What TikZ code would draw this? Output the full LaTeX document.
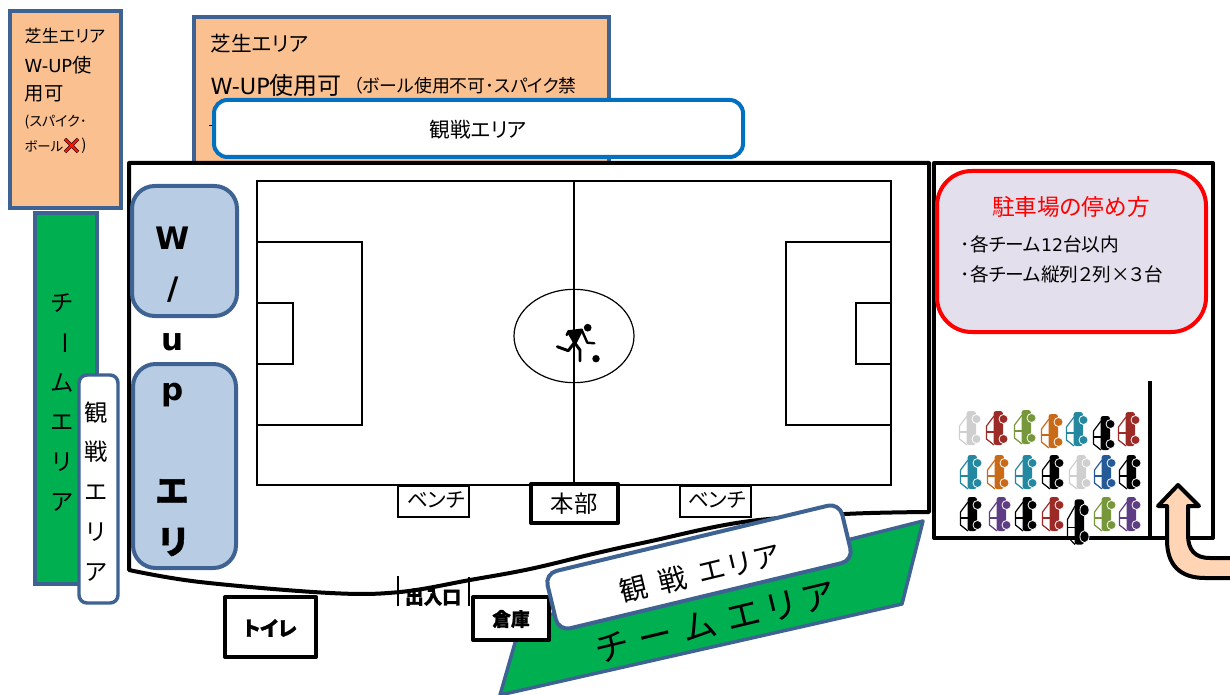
\documentclass[tikz,border=0pt]{standalone}
\usepackage{fontspec}
\setmainfont{Noto Sans CJK JP}[RawFeature=+palt,BoldFeatures={FakeBold=1.2}]
\newfontfamily\latinfont{DejaVu Sans}[Scale=.93]
\definecolor{edgeblue}{HTML}{3E6392}
\definecolor{turf}{HTML}{FBC08F}
\definecolor{teamgreen}{HTML}{00B050}
\definecolor{wupblue}{HTML}{B8CCE4}
\definecolor{viewblue}{HTML}{0070C0}
\definecolor{parklilac}{HTML}{E4DFEC}
\definecolor{arrowpeach}{HTML}{FFD5B5}
\definecolor{cargray}{HTML}{CFCFCF}
\definecolor{carred}{HTML}{9C2A26}
\definecolor{cargreen}{HTML}{76983A}
\definecolor{carorange}{HTML}{C96A18}
\definecolor{carteal}{HTML}{2388A0}
\definecolor{carblue}{HTML}{255A99}
\definecolor{carpurple}{HTML}{5E3D85}
\newcommand{\jpsize}[1]{\fontsize{#1}{#1}\selectfont}
\tikzset{
	areabox/.style={draw=edgeblue,line width=3pt},
	thickline/.style={draw=black,line width=3pt,line join=round},
	fieldline/.style={draw=black,line width=1.2pt},
	carpic/.pic={
		\fill [#1,rounded corners=2pt] (-3.5,-17) rectangle (6,17);
		\draw [#1,line width=.9pt,line join=round] (-3,-12) -- (-10.5,-2) -- (-10.5,11) -- (-3,17);
		\draw [#1,line width=.9pt] (-10.5,4) -- (-3,4);
		\filldraw [fill=#1,draw=white,line width=.6pt] (6.5,-9) circle (3.4pt) (6.5,11) circle (3.4pt);
	}
}
\begin{document}
\begin{tikzpicture}[x=.75pt,y=-.75pt]
	\useasboundingbox (0,0) rectangle (1230,695);
	% turf areas
	\draw [areabox,fill=turf] (10,11) rectangle (121,208);
	\draw [areabox,fill=turf] (194,17) rectangle (609,163);
	\path node (turfa) at (20,36) [anchor=west,font=\jpsize{12.8}] {芝生エリア}
		  node (turfb) at (20,65) [anchor=west,font=\jpsize{14.5}] {{\latinfont W-UP}使}
		  node (turfc) at (20,94) [anchor=west,font=\jpsize{14.5}] {用可}
		  node (turfd) at (20,122) [anchor=west,font=\jpsize{10.5}] {(スパイク･}
		  node (turfe) at (20,146) [anchor=west,font=\jpsize{10}] {ボール}
		  node (turff) at (84,146) [font=\jpsize{11.5}] {)}
		  node (turfg) at (206,44) [anchor=west,font=\jpsize{15.5}] {芝生エリア}
		  node (turfh) at (206,85) [anchor=west,font=\jpsize{18}] {{\latinfont W-UP}使用可}
		  node (turfi) at (349,86) [anchor=west,font=\jpsize{13.4}] {（ボール使用不可･スパイク禁};
	\draw [black,line width=2.6pt] (65,139) -- (78,152) (78,139) -- (65,152);
	\draw [red!85!orange,line width=1.6pt] (65,139) -- (78,152) (78,139) -- (65,152);
	\draw (209,125) -- (213,125);
	\draw [draw=viewblue,line width=3pt,fill=white,rounded corners=10pt] (214,100) rectangle (743,157);
	\path node (viewtop) at (478,130) [font=\jpsize{15.5}] {観戦エリア};
	% left team area
	\draw [areabox,fill=teamgreen] (35,213) rectangle (97,584);
	\foreach \c/\y [count=\i] in {チ/303,ム/383,エ/423,リ/462,ア/502}
		\path node (team\i) at (62,\y) [font=\jpsize{17.5}] {\c};
	\path node (teambar) at (62,343) [rotate=-90,font=\jpsize{17.5}] {ー};
	\draw [areabox,line width=2.6pt,fill=white,rounded corners=6pt] (79,375) rectangle (118,603);
	\foreach \c/\y [count=\i] in {観/413,戦/452,エ/493,リ/532,ア/572}
		\path node (view\i) at (96,\y) [font=\jpsize{17.5}] {\c};
	% ground
	\draw [thickline] (929,163) -- (129,163) -- (129,570)
		-- plot [smooth,tension=.6] coordinates {(129,570) (200,582) (330,593) (400,592) (470,580) (530,569) (597,553) (647,542) (743,522) (845,514) (929,512)}
		-- cycle;
	\draw [areabox,fill=wupblue,rounded corners=17pt] (132,186) rectangle (237,316);
	\draw [areabox,fill=wupblue,rounded corners=17pt] (133,364) rectangle (236,568);
	\foreach \c/\y [count=\i] in {W/238,u/342,p/395}
		\path node (wup\i) at (173,\y) [font=\jpsize{25}\latinfont\bfseries] {\c};
	\path node (wupslash) at (173,290) [font=\jpsize{25}\latinfont\bfseries] {/};
	\path node (wupe) at (172,491) [font=\jpsize{25}\bfseries] {エ}
		  node (wupr) at (173,542) [font=\jpsize{25}\bfseries] {リ};
	% pitch
	\draw [fieldline] (257,181) rectangle (891,485);
	\draw [fieldline] (574,181) -- (574,485);
	\draw [fieldline] (257,242) rectangle (362,425);
	\draw [fieldline] (257,303) rectangle (293,364);
	\draw [fieldline] (786,242) rectangle (891,425);
	\draw [fieldline] (856,303) rectangle (891,364);
	\draw [line width=.9pt] (574,336) ellipse [x radius=45pt,y radius=35pt];
	\fill (587.7,327.7) circle (2.9pt) (596,358.7) circle (2.8pt);
	\draw [line width=2.2pt,line cap=round,line join=round] (557.3,346.7) -- (568.3,350.7) -- (575,341.7);
	\draw [line width=2.2pt,line cap=round,line join=round,fill] (568.3,331.7) -- (581.7,330) -- (575,343.3) -- cycle;
	\draw [line width=2.2pt,line cap=round,line join=round] (575,343.3) -- (580,350) -- (580,361);
	\draw [line width=1.8pt,line cap=round,line join=round] (581.7,330) -- (587.3,342.7) -- (594.3,343.3);
	\draw [line width=1.8pt,line cap=round] (568.3,331.7) -- (566.7,335);
	% benches, office, gate
	\draw [fieldline,fill=white] (398,486) rectangle (469,517);
	\draw [fieldline,fill=white] (680,486) rectangle (751,517);
	\draw [thickline,fill=white] (531,484) rectangle (618,523);
	\path node (benchl) at (436,500) [font=\jpsize{15.5}] {ベンチ}
		  node (benchr) at (717,500) [font=\jpsize{15.5}] {ベンチ}
		  node (office) at (574,504) [font=\jpsize{17.5}] {本部};
	\draw [line width=1.2pt] (398,576) -- (398,606);
	\draw [line width=1.2pt] (469,577) -- (469,606);
	\path node (gate) at (433,597) [font=\jpsize{14}\bfseries] {出入口};
	\draw [thickline,fill=white] (225,597) rectangle (316,657);
	\path node (toilet) at (270,628) [font=\jpsize{15}\bfseries] {トイレ};
	% bottom team area
	\draw [areabox,line width=2.6pt,line join=round,fill=teamgreen] (923,521) -- (902,604) -- (500,695) -- (521,622) -- cycle;
	\path node (teamb) at (715,622) [rotate=13.5,font=\jpsize{26}] {チ\hspace{9pt}ー\hspace{9pt}ム\hspace{9pt}エ\hspace{6pt}リ\hspace{6pt}ア};
	\draw [thickline,fill=white] (473,597) rectangle (549,640);
	\path node (store) at (511,619) [font=\jpsize{14}\bfseries] {倉庫};
	\draw [areabox,fill=white,rounded corners=9pt,rotate around={13.5:(699,567)}] (547.5,537.5) rectangle (850.5,596.5);
	\path node (viewb) at (700,573) [rotate=13.5,font=\jpsize{21}] {観\hspace{9pt}戦\hspace{9pt}エ\hspace{3pt}リ\hspace{3pt}ア};
	% parking
	\draw [thickline] (934,163) -- (934,538) -- (1213,538) -- (1213,163) -- cycle;
	\draw [line width=2.6pt] (1150,381) -- (1150,538);
	\draw [draw=red,line width=3pt,fill=parklilac,rounded corners=26pt] (937,171) rectangle (1206,332);
	\path node (parktitle) at (1071,207) [text=red,font=\jpsize{17}] {駐車場の停め方}
		  node (parka) at (956,244) [anchor=west,font=\jpsize{14}] {･各チーム{\latinfont 12}台以内}
		  node (parkb) at (956,274) [anchor=west,font=\jpsize{14}] {･各チーム縦列２列×３台};
	\foreach \x/\y/\c in {970/428/cargray,997/428/carred,1025/427/cargreen,1052/431/carorange,1077/429/carteal,1104/433/black,1129/429/carred,
		971/472/carteal,998/472/carorange,1026/472/carteal,1053/472/black,1080/472/cargray,1105/472/carblue,1130/472/black,
		971/514/black,1000/514/carpurple,1026/514/black,1053/514/carred,1105/514/cargreen,1130/514/carpurple}
		\pic at (\x,\y) {carpic=\c};
	\pic [yscale=1.33] at (1078,522) {carpic=black};
	% way in
	\draw [line width=3pt,line join=round,fill=arrowpeach] (1178,485) -- (1199,506) -- (1188,506) -- (1188,535)
		.. controls (1188,550) and (1195,558) .. (1210,558) -- (1232,558) -- (1232,578) -- (1205,578)
		.. controls (1180,578) and (1167,565) .. (1167,540) -- (1167,506) -- (1158,506) -- cycle;
\end{tikzpicture}
\end{document}
